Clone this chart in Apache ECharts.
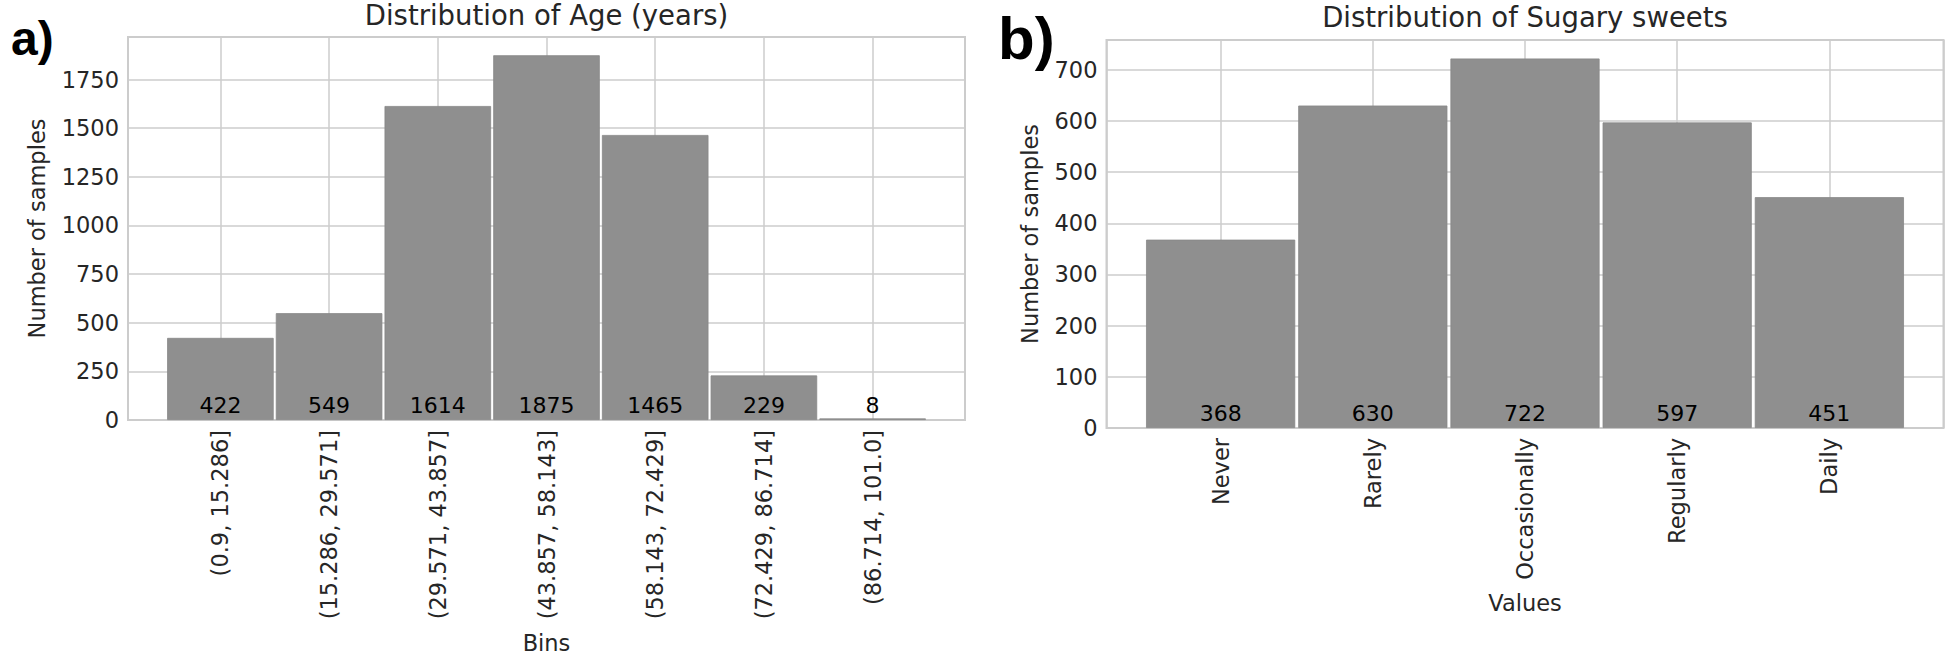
<!DOCTYPE html>
<html>
<head>
<meta charset="utf-8">
<script src="https://cdn.jsdelivr.net/npm/echarts@6/dist/echarts.min.js"></script>
<style>
html,body{margin:0;padding:0;background:#ffffff;}
#c{width:1946px;height:659px;}
</style>
</head>
<body>
<div id="c"></div>
<script>
// ---- data ----
const ageBins = ['(0.9, 15.286]', '(15.286, 29.571]', '(29.571, 43.857]', '(43.857, 58.143]', '(58.143, 72.429]', '(72.429, 86.714]', '(86.714, 101.0]'];
const ageCounts = [422, 549, 1614, 1875, 1465, 229, 8];
const sweetCats = ['Never', 'Rarely', 'Occasionally', 'Regularly', 'Daily'];
const sweetCounts = [368, 630, 722, 597, 451];
const ageYStep = 250;
const sweetYStep = 100;
const titles = ['Distribution of Age (years)', 'Distribution of Sugary sweets'];
const xNames = ['Bins', 'Values'];
const yName = 'Number of samples';
const panelLabels = ['a)', 'b)'];

// ---- style ----
const FONT = 'DejaVu Sans';
const TXT = '#262626';
const GRIDC = '#cccccc';
const BAR = '#8f8f8f';

function isInt(v) { return Math.abs(v - Math.round(v)) < 1e-6; }

function xAxisFor(gi, cats, name, nameGap) {
  const pad = 0.5 + 0.05 * cats.length;
  return {
    type: 'value', gridIndex: gi,
    min: -pad, max: cats.length - 1 + pad,
    minInterval: 1, maxInterval: 1,
    axisLine: { show: false }, axisTick: { show: false },
    splitLine: { show: true, lineStyle: { color: GRIDC, width: 1.5 } },
    axisLabel: {
      rotate: 90, margin: 10, fontSize: 22.5, fontFamily: FONT, color: TXT,
      showMinLabel: false, showMaxLabel: false,
      formatter: function (v) {
        if (!isInt(v)) return '';
        const i = Math.round(v);
        return (i >= 0 && i < cats.length) ? cats[i] : '';
      }
    },
    name: name, nameLocation: 'middle', nameGap: nameGap,
    nameTextStyle: { fontSize: 22.5, fontFamily: FONT, color: TXT }
  };
}

function yAxisFor(gi, counts, step, nameGap) {
  return {
    type: 'value', gridIndex: gi,
    min: 0, max: Math.max.apply(null, counts) * 1.05, interval: step,
    axisLine: { show: false }, axisTick: { show: false },
    splitLine: { show: true, lineStyle: { color: GRIDC, width: 1.5 } },
    axisLabel: {
      margin: 9, fontSize: 22.5, fontFamily: FONT, color: TXT,
      formatter: function (v) { return (Math.abs(v % step) < 1e-6) ? String(v) : ''; }
    },
    name: yName, nameLocation: 'middle', nameGap: nameGap,
    nameTextStyle: { fontSize: 22.5, fontFamily: FONT, color: TXT }
  };
}

function barSeries(gi, counts) {
  return {
    type: 'bar', xAxisIndex: gi, yAxisIndex: gi,
    data: counts.map(function (v, i) { return [i, v]; }),
    barWidth: '98%',
    itemStyle: { color: BAR, borderColor: '#888888', borderWidth: 0.8 },
    label: {
      show: true, position: 'insideBottom', distance: 4,
      fontSize: 22, fontFamily: FONT, color: '#000000',
      formatter: function (p) { return String(p.value[1]); }
    },
    silent: true
  };
}

const chart = echarts.init(document.getElementById('c'), null, { renderer: 'svg' });
chart.setOption({
  animation: false,
  backgroundColor: '#ffffff',
  title: [
    { text: titles[0], left: 546.5, top: 1, textAlign: 'center', padding: 0,
      textStyle: { fontSize: 27.5, fontWeight: 'normal', fontFamily: FONT, color: TXT } },
    { text: titles[1], left: 1525, top: 3, textAlign: 'center', padding: 0,
      textStyle: { fontSize: 27.5, fontWeight: 'normal', fontFamily: FONT, color: TXT } }
  ],
  grid: [
    { left: 128, top: 37, width: 837, height: 387, show: true, borderColor: GRIDC, borderWidth: 2, backgroundColor: '#ffffff', containLabel: false },
    { left: 1106.5, top: 40, width: 837, height: 388, show: true, borderColor: GRIDC, borderWidth: 2, backgroundColor: '#ffffff', containLabel: false }
  ],
  xAxis: [ xAxisFor(0, ageBins, xNames[0], 211), xAxisFor(1, sweetCats, xNames[1], 163) ],
  yAxis: [ yAxisFor(0, ageCounts, ageYStep, 80), yAxisFor(1, sweetCounts, sweetYStep, 65) ],
  series: [ barSeries(0, ageCounts), barSeries(1, sweetCounts) ],
  graphic: [
    { type: 'text', left: 11, top: 14, style: { text: panelLabels[0], font: 'bold 48px "Liberation Sans"', fill: '#000000' } },
    { type: 'text', left: 998, top: 8, style: { text: panelLabels[1], font: 'bold 60px "Liberation Sans"', fill: '#000000' } }
  ]
});
</script>
</body>
</html>
